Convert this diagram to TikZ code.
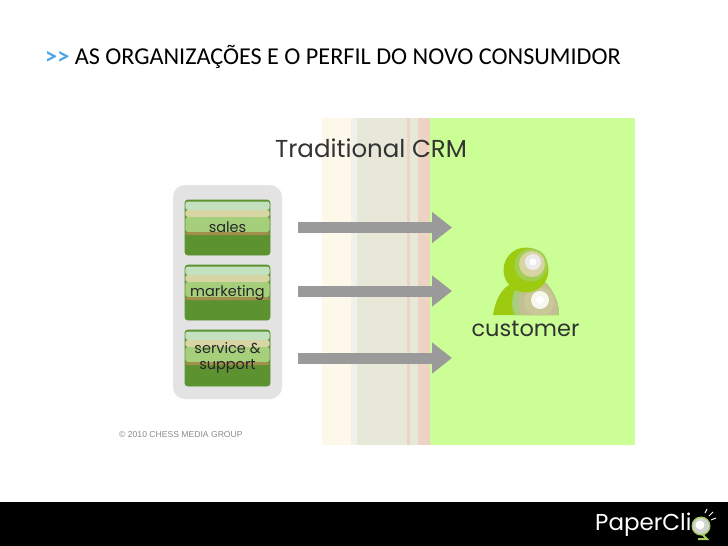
\documentclass[tikz,border=0pt]{standalone}
\usepackage{fontspec}
\setmainfont{Carlito}
\newfontfamily\geo{Poppins}
\newfontfamily\arl{Liberation Sans}
\usetikzlibrary{arrows.meta,calc}
\definecolor{bandgreen}{HTML}{CBFF96}
\definecolor{cream}{HTML}{FDF8EA}
\definecolor{palegrey}{HTML}{F1F1EB}
\definecolor{khaki}{HTML}{E8E8D8}
\definecolor{pinkband}{HTML}{EDD3C3}
\definecolor{boxgreen}{HTML}{5D9231}
\definecolor{stripea}{HTML}{C3E0BF}
\definecolor{stripeb}{HTML}{D7D5A3}
\definecolor{stripec}{HTML}{A6CF7C}
\definecolor{striped}{HTML}{A28F4C}
\definecolor{arrowgrey}{HTML}{9A9A9A}
\definecolor{lime}{HTML}{9CCB10}
\definecolor{titleblue}{HTML}{4FA6E0}
\tikzset{
  x=1pt,y=-1pt,
  band/.style={fill=#1,draw=none},
  panel/.style={fill=black!11,draw=none,rounded corners=12pt},
  deptbox/.style={
    draw=boxgreen,line width=.8pt,rounded corners=3pt,fill=boxgreen,
    minimum width=85pt,inner sep=0pt,align=center,
    text=black!85,font=\geo\fontsize{14.5}{16.5}\selectfont,
    path picture={
      \coordinate (tl) at (path picture bounding box.north west);
      \coordinate (br) at (path picture bounding box.south east);
      \fill[stripea] ($(tl)+(0,1.5)$) rectangle ($(br|-tl)+(0,10)$);
      \fill[stripeb] ($(tl)+(0,10)$) rectangle ($(br|-tl)+(0,17)$);
      \fill[stripec] ($(tl)+(0,17)$) rectangle ($(br|-tl)+(0,32)$);
      \fill[striped] ($(tl)+(0,32)$) rectangle ($(br|-tl)+(0,35)$);
    }},
  flow/.style={draw=arrowgrey,line width=11pt,-{Triangle[length=20pt,width=30pt,fill=arrowgrey]}},
  heading/.style={font=\geo\fontsize{24.5}{28}\selectfont,text=black!80,inner sep=0pt},
  caption/.style={font=\geo\fontsize{22.5}{26}\selectfont,text=black!80,inner sep=0pt},
}
\begin{document}
\begin{tikzpicture}
\useasboundingbox (0,0) rectangle (728,546);
\fill[white] (0,0) rectangle (728,546);
% title
\node[anchor=west,inner sep=0pt,font=\fontsize{24.2}{28}\selectfont] (title) at (45,57)
  {\textcolor{titleblue}{\textbf{>{}>}} AS ORGANIZAÇÕES E O PERFIL DO NOVO CONSUMIDOR};
% bands
\fill[band=cream] (322,118) rectangle (351,445);
\fill[band=palegrey] (351,118) rectangle (357,445);
\fill[band=khaki] (357,118) rectangle (407,445);
\fill[band=pinkband] (407,118) rectangle (410,445);
\fill[band=khaki] (410,118) rectangle (418,445);
\fill[band=pinkband] (418,118) rectangle (430,445);
\fill[band=bandgreen] (430,118) rectangle (635,445);
\node[heading] (crm) at (371,148) {Traditional CRM};
% panel
\fill[panel] (173,185) rectangle (282,399);
\node[deptbox,minimum height=55pt] (sales) at (227.5,227.5) {sales};
\node[deptbox,minimum height=55pt] (marketing) at (227.5,292.5) {marketing};
\node[deptbox,minimum height=56pt] (service) at (227.5,358) {service \&\\support};
% arrows
\coordinate (a1) at (298,227.5);
\coordinate (b1) at (452,227.5);
\coordinate (a2) at (298,291);
\coordinate (b2) at (452,291);
\coordinate (a3) at (298,358);
\coordinate (b3) at (452,358);
\draw[flow] (a1) -- (b1);
\draw[flow] (a2) -- (b2);
\draw[flow] (a3) -- (b3);
% customer icon
\begin{scope}
  \clip (493,315) .. controls (496,296) and (505,282) .. (520,282) -- (545,282) .. controls (553,290) and (559,302) .. (559,315) -- cycle;
  \fill[lime] (485,275) rectangle (565,320);
  \fill[stripec] (539,303) circle (27);
  \fill[stripeb!90!black] (539,303) circle (21);
  \fill[black!6!stripeb] (539,302) circle (15);
  \fill[white!80!stripeb] (540,300) circle (9);
  \fill[white] (540,300) circle (4);
\end{scope}
\fill[lime] (526,270) circle (22.5);
\fill[stripec!60!lime] (531,265) circle (16.5);
\fill[stripeb] (532,264) circle (13);
\fill[black!8!white] (533,262) circle (8);
\fill[white] (533,262) circle (3.5);
\node[caption] (customer) at (525.5,329) {customer};
% copyright
\node[anchor=west,inner sep=0pt,text=black!45,font=\arl\fontsize{8.6}{10}\selectfont] (copy) at (119,435) {© 2010 CHESS MEDIA GROUP};
% footer
\fill[black] (0,502) rectangle (728,546);
\node[anchor=west,inner sep=0pt,text=white,font=\geo\fontsize{23}{26}\selectfont] (logo) at (595,525) {PaperCli};
\fill[stripec!70!lime] (701,526) circle (9.5);
\fill[black!18] (701,526) circle (8);
\fill[white] (700,525) circle (4.5);
\draw[stripec!70!lime,line width=2pt] (702,534) -- (707,539) -- (698,539);
\draw[white,line width=1pt] (705,513) -- (707,509);
\draw[white,line width=1pt] (709,516) -- (713,512);
\draw[white,line width=1pt] (711,520) -- (716,518);
\end{tikzpicture}
\end{document}
